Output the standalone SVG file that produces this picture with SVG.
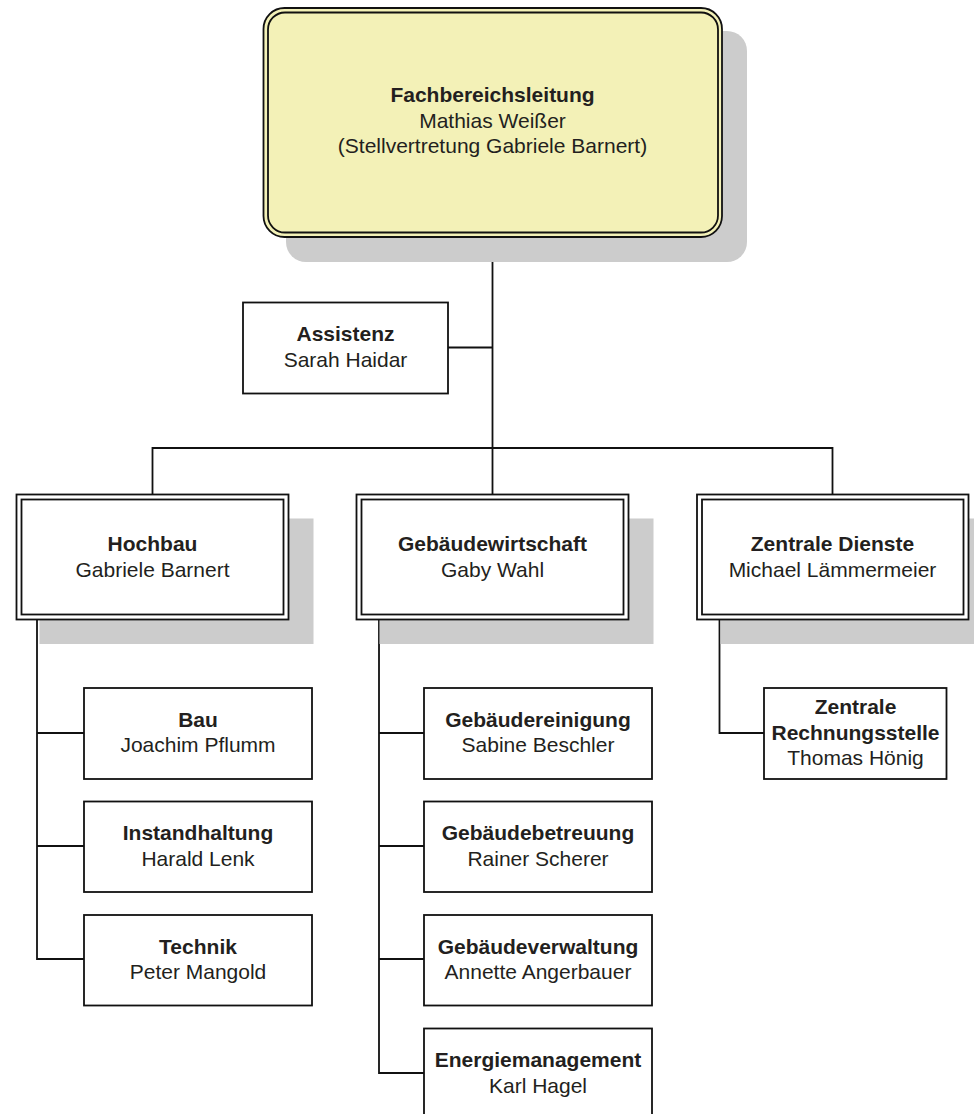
<svg xmlns="http://www.w3.org/2000/svg" width="974" height="1114" viewBox="0 0 974 1114">
<style>
.sh{fill:#cccccc}
.bx{fill:#ffffff;stroke:#111111;stroke-width:1.8}
.top{fill:#f3f1b7;stroke:#111111;stroke-width:1.8}
.ln{fill:none;stroke:#111111;stroke-width:1.8}
text{font-family:"Liberation Sans",Arial,sans-serif;font-size:21px;fill:#231f20;text-anchor:middle}
.b{font-weight:bold}
</style>
<rect width="974" height="1114" fill="#ffffff"/>
<g id="connectors">
<path class="ln" d="M492.5 237 V494.5"/>
<path class="ln" d="M448 347.5 H492.5"/>
<path class="ln" d="M152.5 494.5 V448 H832.5 V494.5"/>
<path class="ln" d="M37 620 V959 H84 M37 733 H84 M37 846 H84"/>
<path class="ln" d="M379 620 V1073 H424 M379 733 H424 M379 846 H424 M379 959 H424"/>
<path class="ln" d="M719.5 620 V733 H764"/>
</g>
<g id="fachbereichsleitung">
<rect class="sh" x="286" y="31" width="461" height="231" rx="20"/>
<rect class="top" x="263.5" y="8" width="458.5" height="229" rx="21"/>
<rect class="top" x="268" y="12.5" width="450" height="220" rx="17"/>
<text class="b" x="492.5" y="102">Fachbereichsleitung</text>
<text x="492.5" y="127.5">Mathias Weißer</text>
<text x="492.5" y="153">(Stellvertretung Gabriele Barnert)</text>
</g>
<g id="assistenz">
<rect class="bx" x="243" y="302.5" width="205" height="91"/>
<text class="b" x="345.5" y="341">Assistenz</text>
<text x="345.5" y="367">Sarah Haidar</text>
</g>
<g id="hochbau">
<rect class="sh" x="39.5" y="518.5" width="274" height="125.5"/>
<rect class="bx" x="16.5" y="494.5" width="272" height="125"/>
<rect class="bx" x="21.5" y="499.5" width="262" height="115"/>
<text class="b" x="152.5" y="551">Hochbau</text>
<text x="152.5" y="577">Gabriele Barnert</text>
</g>
<g id="gebaeudewirtschaft">
<rect class="sh" x="379.5" y="518.5" width="274" height="125.5"/>
<rect class="bx" x="356.5" y="494.5" width="272" height="125"/>
<rect class="bx" x="361.5" y="499.5" width="262" height="115"/>
<text class="b" x="492.5" y="551">Gebäudewirtschaft</text>
<text x="492.5" y="577">Gaby Wahl</text>
</g>
<g id="zentrale-dienste">
<rect class="sh" x="720.5" y="518.5" width="274" height="125.5"/>
<rect class="bx" x="697" y="494.5" width="271.5" height="125"/>
<rect class="bx" x="702" y="499.5" width="261.5" height="115"/>
<text class="b" x="832.5" y="551">Zentrale Dienste</text>
<text x="832.5" y="577">Michael Lämmermeier</text>
</g>
<g id="bau">
<rect class="bx" x="84" y="688" width="228" height="91"/>
<text class="b" x="198" y="727">Bau</text>
<text x="198" y="752">Joachim Pflumm</text>
</g>
<g id="instandhaltung">
<rect class="bx" x="84" y="801.5" width="228" height="90.5"/>
<text class="b" x="198" y="840">Instandhaltung</text>
<text x="198" y="865.5">Harald Lenk</text>
</g>
<g id="technik">
<rect class="bx" x="84" y="915" width="228" height="90.5"/>
<text class="b" x="198" y="953.5">Technik</text>
<text x="198" y="979">Peter Mangold</text>
</g>
<g id="gebaeudereinigung">
<rect class="bx" x="424" y="688" width="228" height="91"/>
<text class="b" x="538" y="727">Gebäudereinigung</text>
<text x="538" y="752">Sabine Beschler</text>
</g>
<g id="gebaeudebetreuung">
<rect class="bx" x="424" y="801.5" width="228" height="90.5"/>
<text class="b" x="538" y="840">Gebäudebetreuung</text>
<text x="538" y="865.5">Rainer Scherer</text>
</g>
<g id="gebaeudeverwaltung">
<rect class="bx" x="424" y="915" width="228" height="90.5"/>
<text class="b" x="538" y="953.5">Gebäudeverwaltung</text>
<text x="538" y="979">Annette Angerbauer</text>
</g>
<g id="energiemanagement">
<rect class="bx" x="424" y="1028.5" width="228" height="91"/>
<text class="b" x="538" y="1067">Energiemanagement</text>
<text x="538" y="1092.5">Karl Hagel</text>
</g>
<g id="zentrale-rechnungsstelle">
<rect class="bx" x="764" y="688" width="182.5" height="91"/>
<text class="b" x="855.5" y="713.5">Zentrale</text>
<text class="b" x="855.5" y="739.5">Rechnungsstelle</text>
<text x="855.5" y="765">Thomas Hönig</text>
</g>
</svg>
